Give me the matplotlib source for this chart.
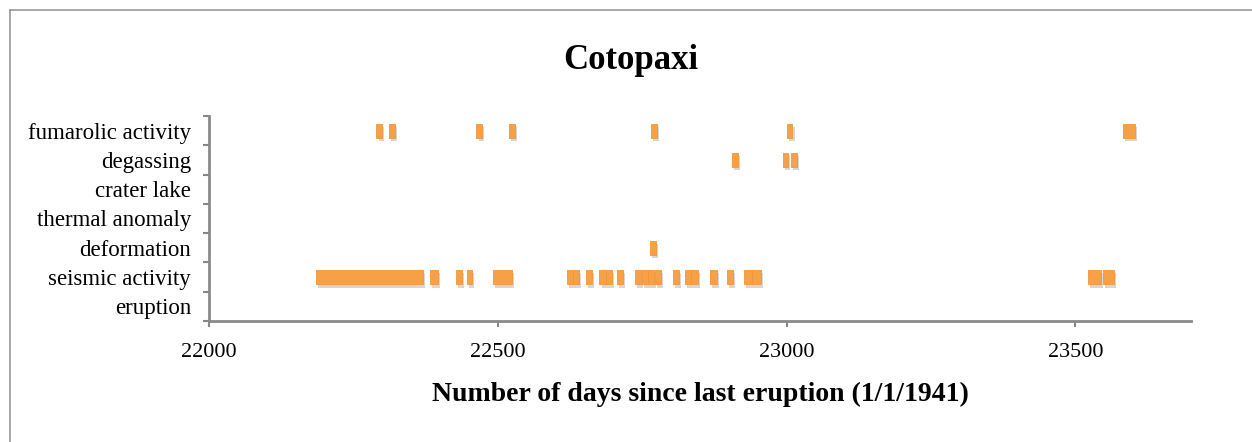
import matplotlib
matplotlib.use("Agg")
import matplotlib.pyplot as plt
import matplotlib.patheffects as pe
from matplotlib.lines import Line2D

# categories from bottom to top
categories = ["eruption", "seismic activity", "deformation", "thermal anomaly",
              "crater lake", "degassing", "fumarolic activity"]

# (start day, duration in days)
eruption = []
seismic = [(22186, 185), (22383, 13), (22427, 11), (22446, 10), (22491, 33),
           (22619, 11), (22630, 11), (22652, 11), (22676, 11), (22687, 11),
           (22706, 11), (22737, 11), (22749, 11), (22760, 10), (22772, 10),
           (22803, 10), (22824, 11), (22835, 11), (22868, 11), (22897, 10),
           (22926, 14), (22940, 16), (23522, 22), (23547, 19)]
deformation = [(22763, 10)]
thermal = []
crater_lake = []
degassing = [(22905, 10), (22993, 10), (23008, 10)]
fumarolic = [(22290, 10), (22312, 10), (22463, 10), (22520, 10),
             (22765, 10), (23000, 10), (23582, 21)]

series = [eruption, seismic, deformation, thermal, crater_lake, degassing, fumarolic]

xticks = [22000, 22500, 23000, 23500]

plt.rcParams["font.family"] = ["Liberation Serif", "DejaVu Serif"]

fig = plt.figure(figsize=(12.52, 4.42), dpi=100)
ax = fig.add_axes([0.1669, 0.2738, 0.7844, 0.4638])

shadow = [pe.SimplePatchShadow(offset=(1.5, -2.5), shadow_rgbFace="#999999", alpha=0.4),
          pe.Normal()]

for i, spans in enumerate(series):
    if spans:
        ax.broken_barh(spans, (i + 0.26, 0.48), facecolors="#F7A147",
                       edgecolors="#F0963A", linewidth=0.6, path_effects=shadow)

ax.set_xlim(22000, 23700)
ax.set_ylim(0, 7)
ax.set_xticks(xticks)
ax.set_xticklabels([str(t) for t in xticks])
ax.set_yticks(range(8))
ax.set_yticklabels([])
ax.set_yticks([i + 0.5 for i in range(7)], minor=True)
ax.set_yticklabels(categories, minor=True)

ax.tick_params(axis="y", which="major", length=4, width=1.5, color="#888888", direction="out")
ax.tick_params(axis="y", which="minor", length=0, pad=13, labelsize=16.5)
ax.tick_params(axis="x", length=4, width=1.5, color="#888888", direction="out",
               pad=12, labelsize=16)

for s in ["top", "right"]:
    ax.spines[s].set_visible(False)
for s in ["left", "bottom"]:
    ax.spines[s].set_color("#8a8a8a")
    ax.spines[s].set_linewidth(2)

ax.set_xlabel("Number of days since last eruption (1/1/1941)", fontsize=20,
              fontweight="bold", labelpad=14)
fig.text(0.504, 0.862, "Cotopaxi", ha="center", va="center", fontsize=25,
         fontweight="bold")

# outer frame
fig.add_artist(Line2D([10 / 1252, 1], [1 - 10 / 442] * 2, color="#999999", lw=1.2))
fig.add_artist(Line2D([10 / 1252] * 2, [0, 1 - 10 / 442], color="#999999", lw=1.2))

fig.savefig("out.png", dpi=100)
